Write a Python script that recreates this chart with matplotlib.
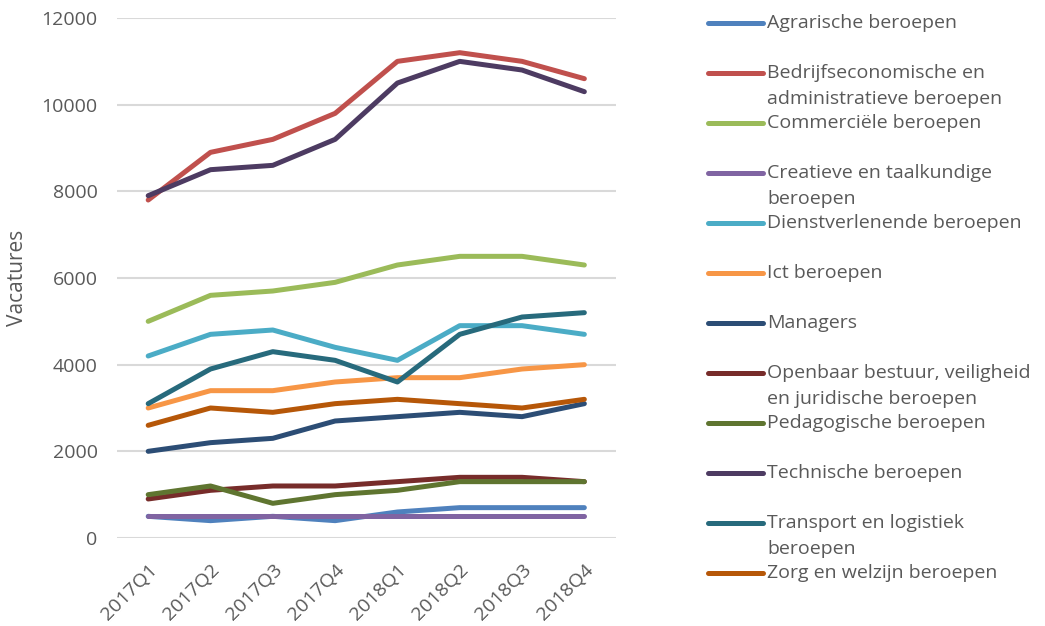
import matplotlib.pyplot as plt
from matplotlib.lines import Line2D

plt.rcParams['font.family'] = ['Open Sans', 'DejaVu Sans']
text_color = '#595959'
grid_color = '#d9d9d9'

quarters = ['2017Q1', '2017Q2', '2017Q3', '2017Q4', '2018Q1', '2018Q2', '2018Q3', '2018Q4']

names = [
    'Agrarische beroepen',
    'Bedrijfseconomische en\nadministratieve beroepen',
    'Commerciële beroepen',
    'Creatieve en taalkundige\nberoepen',
    'Dienstverlenende beroepen',
    'Ict beroepen',
    'Managers',
    'Openbaar bestuur, veiligheid\nen juridische beroepen',
    'Pedagogische beroepen',
    'Technische beroepen',
    'Transport en logistiek\nberoepen',
    'Zorg en welzijn beroepen',
]

agrarisch = [500, 400, 500, 400, 600, 700, 700, 700]
bedrijfseconomisch = [7800, 8900, 9200, 9800, 11000, 11200, 11000, 10600]
commercieel = [5000, 5600, 5700, 5900, 6300, 6500, 6500, 6300]
creatief = [500, 500, 500, 500, 500, 500, 500, 500]
dienstverlenend = [4200, 4700, 4800, 4400, 4100, 4900, 4900, 4700]
ict = [3000, 3400, 3400, 3600, 3700, 3700, 3900, 4000]
managers = [2000, 2200, 2300, 2700, 2800, 2900, 2800, 3100]
openbaar = [900, 1100, 1200, 1200, 1300, 1400, 1400, 1300]
pedagogisch = [1000, 1200, 800, 1000, 1100, 1300, 1300, 1300]
technisch = [7900, 8500, 8600, 9200, 10500, 11000, 10800, 10300]
transport = [3100, 3900, 4300, 4100, 3600, 4700, 5100, 5200]
zorg = [2600, 3000, 2900, 3100, 3200, 3100, 3000, 3200]

series = [agrarisch, bedrijfseconomisch, commercieel, creatief, dienstverlenend, ict,
          managers, openbaar, pedagogisch, technisch, transport, zorg]

colors = ['#4F81BD', '#C0504D', '#9BBB59', '#8064A2', '#4BACC6', '#F79646',
          '#2C4D75', '#772C2A', '#5F7530', '#4D3B62', '#276A7C', '#B65708']

fig = plt.figure(figsize=(10.45, 6.26), dpi=100)
ax = fig.add_axes([0.112, 0.1406, 0.477, 0.8306])

x = list(range(len(quarters)))
for vals, c in zip(series, colors):
    ax.plot(x, vals, color=c, linewidth=3.6, solid_capstyle='round', solid_joinstyle='round')

ax.set_xlim(-0.5, 7.5)
ax.set_ylim(0, 12000)
ax.set_yticks(range(0, 12001, 2000))
ax.set_xticks(x)
ax.set_xticklabels(quarters, rotation=45, ha='right', rotation_mode='anchor')
ax.grid(axis='y', color=grid_color, linewidth=1.5)
ax.set_axisbelow(True)
for s in ax.spines.values():
    s.set_visible(False)
ax.tick_params(axis='both', length=0, labelsize=14, colors=text_color)
ax.tick_params(axis='y', pad=14)
ax.tick_params(axis='x', pad=16)
ax.set_ylabel('Vacatures', fontsize=15, color=text_color, labelpad=10)

# legend drawn by hand, each entry 50 px apart
for i, (name, c) in enumerate(zip(names, colors)):
    y = 1 - (23 + 50 * i) / 626
    fig.add_artist(Line2D([708 / 1045, 763 / 1045], [y, y], color=c, linewidth=3.6,
                          solid_capstyle='round', transform=fig.transFigure))
    fig.text(767 / 1045, y + 9 / 626, name, fontsize=14, color=text_color, va='top',
             ha='left', linespacing=1.55)

fig.savefig('out.png', dpi=100)
